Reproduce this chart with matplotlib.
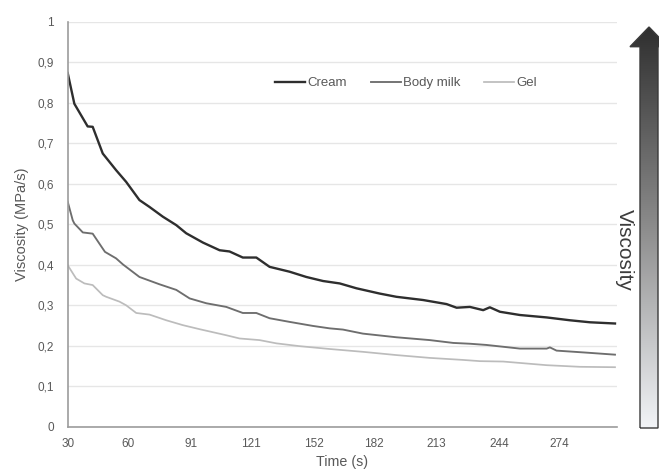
import numpy as np
import matplotlib
matplotlib.use("Agg")
import matplotlib.pyplot as plt
from matplotlib.patches import Polygon

plt.rcParams['font.family'] = ['Liberation Sans', 'DejaVu Sans']

# Viscosity readings (MPa/s) over time (s) for three products
cream_time = [30.0, 33.3, 39.9, 42.4, 47.4, 54.0, 59.0, 65.6, 70.6, 77.2, 83.9, 88.8,
              97.1, 105.4, 110.3, 116.9, 123.6, 130.2, 140.1, 148.4, 156.7, 165.0,
              173.3, 184.8, 193.1, 206.4, 218.0, 223.0, 229.6, 236.2, 239.5, 244.5,
              254.4, 267.7, 279.2, 289.2, 301.6]
cream_visc = [0.874, 0.798, 0.742, 0.741, 0.675, 0.634, 0.605, 0.560, 0.543, 0.519,
              0.498, 0.478, 0.455, 0.436, 0.433, 0.418, 0.418, 0.395, 0.383, 0.370,
              0.360, 0.354, 0.342, 0.329, 0.321, 0.313, 0.303, 0.294, 0.296, 0.288,
              0.295, 0.284, 0.276, 0.270, 0.263, 0.258, 0.255]

milk_time = [30.0, 32.5, 33.3, 37.5, 42.4, 47.4, 48.5, 54.0, 57.4, 65.6, 75.5, 83.9,
             90.5, 98.8, 108.7, 116.9, 123.6, 130.2, 140.1, 151.7, 160.0, 166.6,
             176.5, 193.1, 209.7, 221.3, 229.6, 237.8, 254.4, 267.7, 269.3, 272.6,
             287.5, 301.6]
milk_visc = [0.556, 0.510, 0.502, 0.480, 0.477, 0.440, 0.432, 0.416, 0.401, 0.370,
             0.352, 0.338, 0.317, 0.305, 0.296, 0.281, 0.281, 0.268, 0.259, 0.249,
             0.243, 0.240, 0.230, 0.221, 0.214, 0.207, 0.205, 0.202, 0.193, 0.193,
             0.196, 0.188, 0.183, 0.178]

gel_time = [30.0, 34.2, 38.3, 42.4, 47.4, 49.1, 55.7, 59.0, 64.0, 70.6, 78.9, 87.1,
            95.4, 108.7, 115.3, 125.2, 133.5, 145.1, 160.0, 176.5, 193.1, 209.7,
            226.2, 234.5, 246.1, 267.7, 284.2, 301.6]
gel_visc = [0.399, 0.366, 0.354, 0.350, 0.325, 0.321, 0.309, 0.300, 0.281, 0.277,
            0.263, 0.251, 0.241, 0.226, 0.218, 0.214, 0.206, 0.199, 0.192, 0.185,
            0.177, 0.170, 0.165, 0.162, 0.161, 0.152, 0.148, 0.147]

series_names = ['Cream', 'Body milk', 'Gel']

x_ticks = [30, 60, 91, 121, 152, 182, 213, 244, 274]
y_ticks = [0, 0.1, 0.2, 0.3, 0.4, 0.5, 0.6, 0.7, 0.8, 0.9, 1.0]
y_tick_labels = ['0', '0,1', '0,2', '0,3', '0,4', '0,5', '0,6', '0,7', '0,8', '0,9', '1']

W, H = 659, 471
fig = plt.figure(figsize=(W / 100, H / 100), dpi=100)
fig.patch.set_facecolor('white')

left_px, right_px, top_px, bottom_px = 67.7, 617.0, 22.0, 426.7
ax = fig.add_axes([left_px / W, (H - bottom_px) / H,
                   (right_px - left_px) / W, (bottom_px - top_px) / H])

text_gray = '#595959'
ax.plot(cream_time, cream_visc, color='#2e2e2e', lw=1.7, label=series_names[0],
        solid_joinstyle='round')
ax.plot(milk_time, milk_visc, color='#6e6e6e', lw=1.35, label=series_names[1],
        solid_joinstyle='round')
ax.plot(gel_time, gel_visc, color='#bcbcbc', lw=1.25, label=series_names[2],
        solid_joinstyle='round')

ax.set_xlim(30, 302.6)
ax.set_ylim(0, 1)
ax.set_xticks(x_ticks)
ax.set_xticklabels([str(v) for v in x_ticks])
ax.set_yticks(y_ticks)
ax.set_yticklabels(y_tick_labels)
ax.tick_params(axis='both', length=0, labelsize=8.5, labelcolor=text_gray)
ax.tick_params(axis='y', pad=10)
ax.tick_params(axis='x', pad=8)

ax.yaxis.grid(True, color='#e6e6e6', lw=1.0)
ax.set_axisbelow(True)
for side in ('top', 'right'):
    ax.spines[side].set_visible(False)
for side in ('left', 'bottom'):
    ax.spines[side].set_color('#9c9c9c')
    ax.spines[side].set_linewidth(1.2)

ax.set_xlabel('Time (s)', fontsize=10.3, color=text_gray, labelpad=4)
ax.set_ylabel('Viscosity (MPa/s)', fontsize=10.5, color=text_gray, labelpad=6)

ax.legend(loc='center', bbox_to_anchor=(0.616, 0.849), ncol=3, frameon=False,
          fontsize=9.5, handlelength=2.3, handletextpad=0.15, columnspacing=1.8,
          labelcolor=text_gray)

# Overlay in pixel coordinates for the gradient arrow
ov = fig.add_axes([0, 0, 1, 1], zorder=5)
ov.set_xlim(0, W)
ov.set_ylim(H, 0)
ov.axis('off')
ov.patch.set_alpha(0)

arrow_pts = [(640, 428), (640, 46.7), (630, 46.7), (649, 27), (668, 46.7),
             (658, 46.7), (658, 428)]
grad = np.linspace(0, 1, 256).reshape(-1, 1)
cmap = matplotlib.colors.LinearSegmentedColormap.from_list(
    'shade', ['#2f2f2f', '#8c8c8c', '#f2f4f7'])
img = ov.imshow(grad, cmap=cmap, extent=[625, 670, 428, 27], aspect='auto',
                interpolation='bilinear')
clip = Polygon(arrow_pts, closed=True, transform=ov.transData)
img.set_clip_path(clip)
ov.add_patch(Polygon(arrow_pts, closed=True, fill=False, edgecolor='#3a3a3a',
                     lw=1.0, joinstyle='miter'))
ov.text(624, 250, 'Viscosity', rotation=-90, ha='center', va='center',
        fontsize=15, color='#3c3c3c')

fig.savefig('out.png', dpi=100)
